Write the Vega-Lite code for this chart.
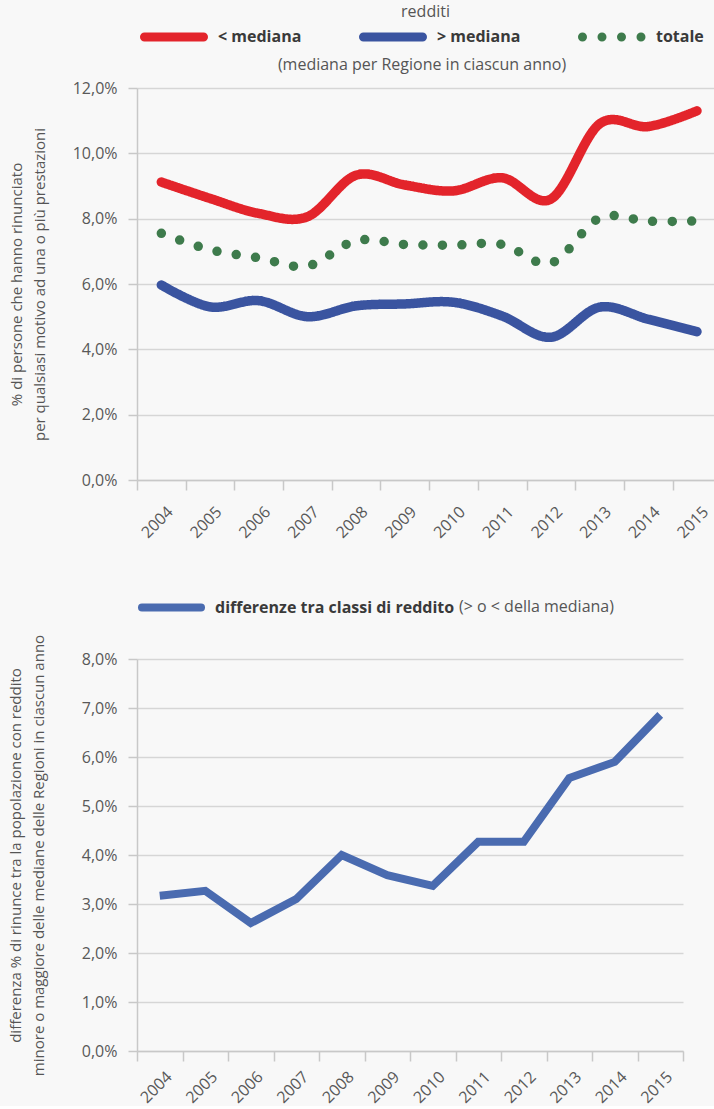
{
  "$schema": "https://vega.github.io/schema/vega-lite/v6.json",
  "background": "#F8F8F8",
  "padding": {"left": 8, "top": 3, "right": 0, "bottom": 0},
  "config": {
    "font": "Open Sans",
    "view": {"stroke": null},
    "concat": {"spacing": 33},
    "axis": {
      "labelFont": "Open Sans",
      "labelFontSize": 16,
      "labelColor": "#595959",
      "titleFont": "Open Sans",
      "titleFontSize": 15,
      "titleFontWeight": "normal",
      "titleColor": "#555555",
      "titleLineHeight": 23,
      "domainColor": "#C8C8C8",
      "tickColor": "#C8C8C8",
      "gridColor": "#D6D6D6",
      "domainWidth": 1.5,
      "tickWidth": 1.5,
      "gridWidth": 1.5
    },
    "legend": {
      "labelFont": "Open Sans",
      "labelFontSize": 16,
      "labelFontWeight": "bold",
      "labelColor": "#3A3A3A",
      "labelLimit": 0,
      "titleFont": "Open Sans",
      "titleFontSize": 16,
      "titleFontWeight": "normal",
      "titleColor": "#555555",
      "titleLimit": 0
    }
  },
  "resolve": {
    "scale": {"x": "independent", "y": "independent", "color": "independent", "strokeDash": "independent"},
    "legend": {"color": "independent", "strokeDash": "independent"}
  },
  "datasets": {
    "rinunce": [
      {"anno": 2004, "serie": "< mediana", "valore": 9.12},
      {"anno": 2005, "serie": "< mediana", "valore": 8.62},
      {"anno": 2006, "serie": "< mediana", "valore": 8.16},
      {"anno": 2007, "serie": "< mediana", "valore": 8.06},
      {"anno": 2008, "serie": "< mediana", "valore": 9.33},
      {"anno": 2009, "serie": "< mediana", "valore": 9.03},
      {"anno": 2010, "serie": "< mediana", "valore": 8.85},
      {"anno": 2011, "serie": "< mediana", "valore": 9.25},
      {"anno": 2012, "serie": "< mediana", "valore": 8.6},
      {"anno": 2013, "serie": "< mediana", "valore": 10.9},
      {"anno": 2014, "serie": "< mediana", "valore": 10.82},
      {"anno": 2015, "serie": "< mediana", "valore": 11.3},
      {"anno": 2004, "serie": "> mediana", "valore": 5.97},
      {"anno": 2005, "serie": "> mediana", "valore": 5.3},
      {"anno": 2006, "serie": "> mediana", "valore": 5.49},
      {"anno": 2007, "serie": "> mediana", "valore": 5.0},
      {"anno": 2008, "serie": "> mediana", "valore": 5.33},
      {"anno": 2009, "serie": "> mediana", "valore": 5.39},
      {"anno": 2010, "serie": "> mediana", "valore": 5.44},
      {"anno": 2011, "serie": "> mediana", "valore": 5.02},
      {"anno": 2012, "serie": "> mediana", "valore": 4.37},
      {"anno": 2013, "serie": "> mediana", "valore": 5.29},
      {"anno": 2014, "serie": "> mediana", "valore": 4.92},
      {"anno": 2015, "serie": "> mediana", "valore": 4.54},
      {"anno": 2004, "serie": "totale", "valore": 7.55},
      {"anno": 2005, "serie": "totale", "valore": 7.05},
      {"anno": 2006, "serie": "totale", "valore": 6.8},
      {"anno": 2007, "serie": "totale", "valore": 6.55},
      {"anno": 2008, "serie": "totale", "valore": 7.33},
      {"anno": 2009, "serie": "totale", "valore": 7.21},
      {"anno": 2010, "serie": "totale", "valore": 7.19},
      {"anno": 2011, "serie": "totale", "valore": 7.21},
      {"anno": 2012, "serie": "totale", "valore": 6.64},
      {"anno": 2013, "serie": "totale", "valore": 8.02},
      {"anno": 2014, "serie": "totale", "valore": 7.92},
      {"anno": 2015, "serie": "totale", "valore": 7.93}
    ],
    "differenze": [
      {"anno": 2004, "serie": "differenze tra classi di reddito", "diff": 3.17},
      {"anno": 2005, "serie": "differenze tra classi di reddito", "diff": 3.27},
      {"anno": 2006, "serie": "differenze tra classi di reddito", "diff": 2.61},
      {"anno": 2007, "serie": "differenze tra classi di reddito", "diff": 3.1},
      {"anno": 2008, "serie": "differenze tra classi di reddito", "diff": 4.0},
      {"anno": 2009, "serie": "differenze tra classi di reddito", "diff": 3.59},
      {"anno": 2010, "serie": "differenze tra classi di reddito", "diff": 3.37},
      {"anno": 2011, "serie": "differenze tra classi di reddito", "diff": 4.27},
      {"anno": 2012, "serie": "differenze tra classi di reddito", "diff": 4.27},
      {"anno": 2013, "serie": "differenze tra classi di reddito", "diff": 5.57},
      {"anno": 2014, "serie": "differenze tra classi di reddito", "diff": 5.9},
      {"anno": 2015, "serie": "differenze tra classi di reddito", "diff": 6.86}
    ]
  },
  "vconcat": [
    {
      "data": {"name": "rinunce"},
      "width": 577,
      "height": 392,
      "title": {"text": "redditi", "anchor": "middle", "frame": "group", "fontSize": 16, "fontWeight": "normal", "color": "#555555", "font": "Open Sans", "offset": -17},
      "mark": {"type": "line", "interpolate": "cardinal", "strokeWidth": 9.5, "strokeCap": "round", "strokeJoin": "round"},
      "encoding": {
        "x": {
          "field": "anno", "type": "quantitative",
          "scale": {"domain": [2003.5, 2015.35], "nice": false, "zero": false},
          "axis": {
            "title": null,
            "values": [2003.5, 2004.5, 2005.5, 2006.5, 2007.5, 2008.5, 2009.5, 2010.5, 2011.5, 2012.5, 2013.5, 2014.5],
            "labelExpr": "format(datum.value + 0.5, 'd')",
            "labelAngle": -45, "labelAlign": "center", "labelBaseline": "middle",
            "labelOffset": 20, "labelPadding": 32, "tickSize": 10,
            "labelOverlap": false, "labelFlush": false, "labelBound": false,
            "grid": false
          }
        },
        "y": {
          "field": "valore", "type": "quantitative",
          "scale": {"domain": [0, 12], "nice": false},
          "axis": {
            "title": ["% di persone che hanno rinunciato", "per qualsiasi motivo ad una o più prestazioni"],
            "values": [0, 2, 4, 6, 8, 10, 12],
            "labelExpr": "replace(format(datum.value, '.1f'), '.', ',') + '%'",
            "tickSize": 9, "labelPadding": 11, "titlePadding": 25,
            "domain": true, "grid": true
          }
        },
        "color": {
          "field": "serie", "type": "nominal",
          "scale": {"domain": ["< mediana", "> mediana", "totale"], "range": ["#E3242B", "#3A54A0", "#3E7B4C"]},
          "legend": {
            "orient": "none", "legendX": 3, "legendY": -85, "direction": "horizontal",
            "title": "(mediana per Regione in ciascun anno)",
            "titleOrient": "bottom", "titleAnchor": "middle", "titlePadding": 2,
            "symbolType": "stroke", "symbolSize": 3481, "symbolStrokeWidth": 9,
            "labelOffset": 10, "columnPadding": 43,
            "encode": {"symbols": {"update": {"strokeCap": {"value": "round"}}}}
          }
        },
        "strokeDash": {
          "field": "serie", "type": "nominal",
          "scale": {"domain": ["< mediana", "> mediana", "totale"], "range": [[1, 0], [1, 0], [0, 19.5]]},
          "legend": {
            "orient": "none", "legendX": 3, "legendY": -85, "direction": "horizontal",
            "title": "(mediana per Regione in ciascun anno)",
            "titleOrient": "bottom", "titleAnchor": "middle", "titlePadding": 2,
            "symbolType": "stroke", "symbolSize": 3481, "symbolStrokeWidth": 9,
            "labelOffset": 10, "columnPadding": 43,
            "encode": {"symbols": {"update": {"strokeCap": {"value": "round"}}}}
          }
        }
      }
    },
    {
      "data": {"name": "differenze"},
      "width": 546,
      "height": 392,
      "mark": {"type": "line", "interpolate": "linear", "strokeWidth": 8, "strokeJoin": "miter"},
      "encoding": {
        "x": {
          "field": "anno", "type": "quantitative",
          "scale": {"domain": [2003.5, 2015.5], "nice": false, "zero": false},
          "axis": {
            "title": null,
            "values": [2003.5, 2004.5, 2005.5, 2006.5, 2007.5, 2008.5, 2009.5, 2010.5, 2011.5, 2012.5, 2013.5, 2014.5, 2015.5],
            "labelExpr": "datum.value < 2015 ? format(datum.value + 0.5, 'd') : ''",
            "labelAngle": -45, "labelAlign": "center", "labelBaseline": "middle",
            "labelOffset": 19, "labelPadding": 26, "tickSize": 10,
            "labelOverlap": false, "labelFlush": false, "labelBound": false,
            "grid": false
          }
        },
        "y": {
          "field": "diff", "type": "quantitative",
          "scale": {"domain": [0, 8], "nice": false},
          "axis": {
            "title": ["differenza % di rinunce tra la popolazione con reddito", "minore o maggiore delle mediane delle Regioni in ciascun anno"],
            "values": [0, 1, 2, 3, 4, 5, 6, 7, 8],
            "labelExpr": "replace(format(datum.value, '.1f'), '.', ',') + '%'",
            "tickSize": 9, "labelPadding": 11, "titlePadding": 35,
            "domain": true, "grid": true
          }
        },
        "color": {
          "field": "serie", "type": "nominal",
          "scale": {"range": ["#4A6BB0"]},
          "legend": {
            "orient": "none", "legendX": 1, "legendY": -85, "direction": "horizontal",
            "title": ["", "(> o < della mediana)"],
            "titleOrient": "right", "titlePadding": 5, "titleAnchor": "middle", "titleLineHeight": 16,
            "symbolType": "stroke", "symbolSize": 3481, "symbolStrokeWidth": 8,
            "labelOffset": 10,
            "encode": {"symbols": {"update": {"strokeCap": {"value": "round"}}}}
          }
        }
      }
    }
  ]
}
